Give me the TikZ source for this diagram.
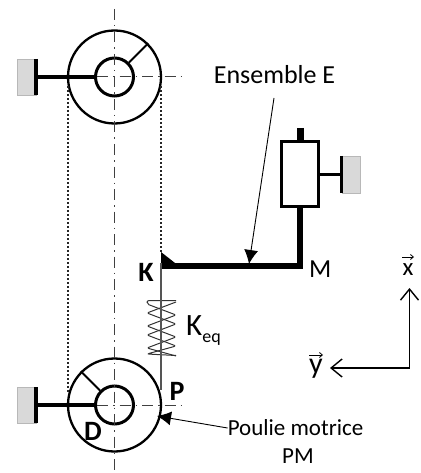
\documentclass[tikz,border=0pt]{standalone}
\usepackage{fontspec}
\setmainfont{Carlito}
\usetikzlibrary{arrows.meta}
\definecolor{wallgray}{HTML}{D9D9D9}
\definecolor{cableg}{HTML}{555555}
\tikzset{
  wall/.style={fill=wallgray,draw=wallgray!85!black,line width=0.5pt},
  thick bar/.style={line width=4pt},
  outer/.style={draw,line width=2.3pt,circle,minimum size=93pt,inner sep=0pt},
  inner/.style={draw,line width=3pt,circle,minimum size=38pt,inner sep=0pt},
  centerline/.style={line width=1pt,black!75,dash pattern=on 11pt off 5pt on 1.5pt off 5pt},
  belt/.style={line width=1.5pt,black!85,dash pattern=on 2pt off 2pt},
  lab/.style={font=\fontsize{26}{28}\selectfont,inner sep=0pt},
  plab/.style={font=\fontsize{23}{25}\selectfont,inner sep=0pt},
  blab/.style={font=\fontsize{28}{30}\selectfont\bfseries,inner sep=0pt},
  leader/.style={line width=0.9pt,-{Latex[length=14pt,width=14pt]}},
  axis/.style={line width=1.4pt,-{Straight Barb[length=11pt,width=18pt,line width=1.4pt]}},
  vecarrow/.style={line width=0.9pt,-{Straight Barb[length=3pt,width=5pt,line width=0.8pt]}},
  coil/.style={line width=1pt,black!80,line join=round,rounded corners=2pt},
}
\begin{document}
\begin{tikzpicture}[x=1pt,y=-1pt]
\useasboundingbox (0,0) rectangle (420,473);
% pulleys
\node[outer] (top) at (114.5,77) {};
\node[inner] (topi) at (114.5,77) {};
\node[outer] (bot) at (114.5,405) {};
\node[inner] (boti) at (114.5,405) {};
\draw[line width=2pt] (topi.45) -- (top.45);
\draw[line width=2pt] (boti.135) -- (bot.135);
% belts
\coordinate (bl1) at (68,86);
\coordinate (bl2) at (68,392);
\coordinate (br1) at (161,86);
\coordinate (br2) at (161,252);
\draw[belt] (bl1) -- (bl2);
\draw[belt] (br1) -- (br2);
% center lines
\coordinate (vA) at (114.5,9);
\coordinate (vB) at (114.5,470);
\coordinate (hA) at (97,77);
\coordinate (hB) at (184,77);
\coordinate (hC) at (97,405);
\coordinate (hD) at (184,405);
\draw[centerline] (vA) -- (vB);
\draw[centerline] (hA) -- (hB);
\draw[centerline] (hC) -- (hD);
% walls and axles
\draw[wall] (17,59) rectangle (36,95);
\draw[wall] (17,387) rectangle (36,423);
\draw[wall] (342,156) rectangle (360,193);
\coordinate (w1a) at (36,59); \coordinate (w1b) at (36,95); \coordinate (w1c) at (36,77);
\coordinate (w2a) at (36,387); \coordinate (w2b) at (36,423); \coordinate (w2c) at (36,405);
\coordinate (w3a) at (341.5,156); \coordinate (w3b) at (341.5,193); \coordinate (w3c) at (341.5,174);
\draw[thick bar] (w1a) -- (w1b);
\draw[thick bar] (w2a) -- (w2b);
\draw[line width=3.5pt] (w3a) -- (w3b);
\draw[line width=4pt] (w1c) -- (topi.west);
\draw[line width=4pt] (w2c) -- (boti.west);
% cylinder
\node[draw,line width=3pt,minimum width=37pt,minimum height=65pt,inner sep=0pt] (cyl) at (300,174) {};
\draw[line width=3pt] (cyl.east) -- (w3c);
\coordinate (rodtop) at (300,128);
\coordinate (M) at (300,266);
\coordinate (K) at (161,266);
\draw[line width=7pt] (rodtop) -- (cyl.north);
\draw[line width=6pt,line join=miter] (cyl.south) -- (M) -- (K);
\fill (161,252) -- (175,263) -- (161,263) -- cycle;
% spring and cable
\draw[coil] (176,300.5) -- (147,300.5) -- (147,304) -- (176,315) -- (147,326) -- (176,337) -- (147,348) -- (176,356);
\draw[coil] (176,302) -- (147,313) -- (176,324) -- (147,335) -- (176,346) -- (147,354) -- (176,355.5);
\coordinate (cA) at (161,263);
\coordinate (cB) at (161,390);
\draw[line width=1.4pt,cableg] (cA) -- (cB);
% labels
\node[lab] (ens) at (274.5,75) {Ensemble E};
\node[lab,anchor=west] (lM) at (309,269) {M};
\node[blab] (lK) at (146,272) {K};
\node[lab,anchor=west,font=\fontsize{31}{32}\selectfont] (lKeq) at (186,331) {K\raisebox{-7pt}{\fontsize{18}{19}\selectfont eq}};
\node[blab] (lP) at (177,391) {P};
\node[blab] (lD) at (93,431) {D};
\node[plab] (lPM) at (295.5,428) {Poulie motrice};
\node[plab] (lPM2) at (298,456) {PM};
% arrows
\coordinate (eA) at (274,98);
\coordinate (eB) at (249,264);
\draw[leader] (eA) -- (eB);
\draw[leader] (lPM.west) -- (157,416);
% axes
\coordinate (O) at (409.5,368);
\coordinate (xT) at (409.5,288);
\coordinate (yT) at (330,368);
\draw[axis] (O) -- (xT);
\draw[axis] (O) -- (yT);
\node[lab,font=\fontsize{25}{26}\selectfont] (lx) at (408,270) {x};
\node[lab,font=\fontsize{30}{32}\selectfont] (ly) at (316,369) {y};
\coordinate (xva) at (402,257); \coordinate (xvb) at (414,257);
\coordinate (yva) at (309,355); \coordinate (yvb) at (323,355);
\draw[vecarrow] (xva) -- (xvb);
\draw[vecarrow] (yva) -- (yvb);
\end{tikzpicture}
\end{document}
